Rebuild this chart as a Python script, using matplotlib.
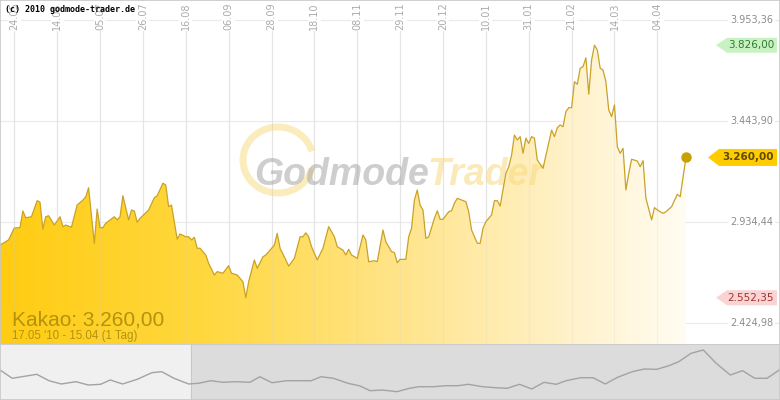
import numpy as np
import matplotlib
matplotlib.use('Agg')
import matplotlib.pyplot as plt
from matplotlib.patches import Polygon, Arc, Rectangle
from matplotlib.colors import LinearSegmentedColormap

# Kakao, Tageskurse 17.05.2010 - 15.04.2011, x = Handelstag seit Start
days = [0, 2, 3, 5, 7, 8, 9, 11, 13, 14, 15, 16, 17, 19, 21, 22, 23, 25, 27, 29,
        30, 31, 33, 34, 35, 36, 37, 40, 41, 42, 43, 45, 46, 47, 48, 49, 52, 54, 55, 57,
        58, 59, 60, 62, 63, 65, 66, 67, 68, 69, 70, 72, 73, 75, 76, 78, 80, 81, 83, 85,
        86, 87, 89, 90, 92, 93, 96, 97, 98, 100, 101, 103, 105, 106, 107, 108, 109, 111, 113, 115,
        117, 118, 120, 121, 122, 123, 125, 127, 128, 129, 131, 132, 134, 135, 137, 138, 139, 140, 142, 143,
        144, 145, 146, 147, 148, 149, 150, 152, 153, 154, 155, 157, 158, 159, 160, 163, 164, 165, 167, 168,
        169, 170, 172, 173, 174, 175, 177, 178, 179, 180, 181, 182, 183, 184, 185, 186, 187, 188, 190, 193,
        194, 195, 196, 197, 198, 199, 200, 201, 202, 203, 204, 205, 206, 207, 208, 209, 210, 211, 212, 213,
        214, 215, 216, 217, 218, 219, 220, 221, 223, 224, 225, 226, 228, 229, 230, 232, 233, 235, 237, 238,
        240]
prices = [2818, 2835, 2844, 2904, 2906, 2990, 2956, 2961, 3042, 3034, 2899, 2961, 2966, 2919, 2961, 2911, 2919, 2908, 3020, 3045,
          3062, 3107, 2827, 3000, 2906, 2906, 2928, 2961, 2945, 2961, 3067, 2945, 2995, 2990, 2933, 2953, 2995, 3057, 3067, 3130,
          3121, 3012, 3020, 2848, 2874, 2860, 2860, 2844, 2857, 2802, 2802, 2768, 2726, 2667, 2684, 2676, 2714, 2676, 2667, 2633,
          2552.35, 2633, 2743, 2701, 2759, 2768, 2818, 2877, 2802, 2743, 2712, 2751, 2860, 2860, 2880, 2860, 2810, 2743, 2802, 2911,
          2860, 2810, 2793, 2768, 2797, 2768, 2751, 2869, 2844, 2734, 2739, 2734, 2894, 2835, 2785, 2780, 2729, 2746, 2746, 2860,
          2903, 3045, 3096, 3020, 2995, 2852, 2860, 2953, 2991, 2948, 2948, 2986, 2991, 3029, 3054, 3037, 2986, 2894, 2827, 2827,
          2903, 2936, 2970, 3042, 3042, 3015, 3180, 3213, 3272, 3373, 3348, 3365, 3281, 3357, 3331, 3365, 3357, 3247, 3205, 3398,
          3365, 3410, 3424, 3415, 3491, 3511, 3511, 3642, 3629, 3710, 3718, 3763, 3579, 3752, 3826, 3802, 3710, 3701, 3642, 3499,
          3466, 3525, 3314, 3281, 3306, 3096, 3180, 3251, 3242, 3213, 3244, 3054, 2945, 3007, 2995, 2978, 2986, 3012, 3074, 3062,
          3260]

tick_days = [5, 20, 35, 50, 65, 80, 95, 110, 125, 140, 155, 170, 185, 200, 215, 230]
tick_labels = ['24.05', '14.06', '05.07', '26.07', '16.08', '06.09', '28.09', '18.10',
               '08.11', '29.11', '20.12', '10.01', '31.01', '21.02', '14.03', '04.04']
y_ticks = [2424.98, 2934.44, 3443.90, 3953.36]

# Übersicht (Navigator) unten, längere Historie
nav_days = [-78, -73, -63, -58, -53, -47, -42, -37, -33, -28, -22, -16, -12, -7, -1, 3, 8, 13, 18, 24,
            28, 33, 39, 49, 53, 58, 64, 69, 73, 78, 84, 89, 93, 99, 104, 109, 113, 119, 124, 129,
            134, 139, 144, 149, 153, 159, 164, 169, 174, 180, 185, 190, 195, 199, 204, 209, 214, 220, 225, 230,
            235, 240]
nav_prices = [3215, 2962, 3084, 2888, 2788, 2858, 2757, 2778, 2910, 2788, 2931, 3133, 3163, 2962, 2788, 2809, 2888, 2839, 2858, 2839,
              3010, 2827, 2888, 2888, 3010, 2962, 2809, 2726, 2583, 2604, 2552, 2656, 2705, 2705, 2736, 2736, 2778, 2705, 2675, 2656,
              2778, 2635, 2839, 2778, 2888, 2980, 2980, 2788, 2992, 3163, 3246, 3236, 3346, 3469, 3725, 3826, 3438, 3062, 3194, 2962,
              2962, 3215]

assert len(days) == len(prices)
assert len(nav_days) == len(nav_prices)


def de(v):
    return f"{v:,.2f}".replace(',', 'X').replace('.', ',').replace('X', '.')


W, H = 780, 400
MAIN_H = 344
px_per_day = 2.858
units_per_px = 5.0442
y_top = y_ticks[-1] + 20 * units_per_px
y_bot = y_ticks[-1] - (MAIN_H - 20) * units_per_px

fig = plt.figure(figsize=(7.8, 4), dpi=100)
fig.patch.set_facecolor('white')
ax = fig.add_axes([0, 1 - MAIN_H / H, 1, MAIN_H / H])
ax.set_facecolor('white')
for s in ax.spines.values():
    s.set_visible(False)
ax.set_xticks([])
ax.set_yticks([])

# Gitter
for v in y_ticks:
    ax.axhline(v, color='#EAEAEA', lw=0.8, zorder=1)
for d in tick_days:
    ax.axvline(d, color='#EAEAEA', lw=0.8, zorder=1)

# Fläche mit Farbverlauf
cmap = LinearSegmentedColormap.from_list('gold', [
    (0.0, '#FFCC12'), (0.3, '#FFD83F'), (0.58, '#FFE48A'),
    (0.8, '#FFF0C2'), (1.0, '#FFFCF2')])
verts = [(days[0], y_bot)] + list(zip(days, prices)) + [(days[-1], y_bot)]
area = Polygon(verts, closed=True, facecolor='none', edgecolor='none')
ax.add_patch(area)
im = ax.imshow(np.linspace(0, 1, 256)[None, :], cmap=cmap,
               extent=[days[0], days[-1], y_bot, y_top], aspect='auto', zorder=2)
im.set_clip_path(area)

# Gitter leicht über der Fläche
for d in tick_days:
    ax.axvline(d, color='#D0D0D0', lw=0.8, alpha=0.2, zorder=2.5)

ax.set_xlim(days[0], days[0] + W / px_per_day)
ax.set_ylim(y_bot, y_top)

# Wasserzeichen
ring = Arc((278 / W, 1 - 160 / MAIN_H), 70 / W, 66 / MAIN_H, theta1=30, theta2=330,
           transform=ax.transAxes, color='#F7D66E', lw=5, alpha=0.45, zorder=3)
ax.add_patch(ring)
wm = dict(transform=ax.transAxes, fontsize=27, fontweight='bold', style='italic',
          family=['Liberation Sans', 'DejaVu Sans'],
          va='baseline', ha='left', alpha=0.55, zorder=3)
t1 = ax.text(254 / W, 1 - 185 / MAIN_H, 'Godmode', color='#A6A6A6', **wm)
fig.canvas.draw()
bb = t1.get_window_extent()
x_end = ax.transAxes.inverted().transform((bb.x1 - 2, bb.y0))[0]
ax.text(x_end, 1 - 185 / MAIN_H, 'Trader', color='#F7DA80', **wm)

# Kurslinie
ax.plot(days, prices, color='#C9A227', lw=0.9, zorder=4)
ax.plot(days[-1], prices[-1], 'o', ms=6.5, color='#C8A000', zorder=5)

# Datumsbeschriftung oben
xt = ax.get_xaxis_transform()
for d, lab in zip(tick_days, tick_labels):
    ax.text(d, 1 - 2 / MAIN_H, lab, transform=xt, rotation=90, ha='center', va='top',
            fontsize=7, color='#ABABAB', zorder=6,
            bbox=dict(boxstyle='square,pad=0.15', fc='white', ec='none'))

# Kursachse rechts
yt = ax.get_yaxis_transform()
for v in y_ticks:
    ax.text(773 / W, v, de(v), transform=yt, ha='right', va='center', fontsize=7,
            color='#8C8C8C', zorder=6,
            bbox=dict(boxstyle='square,pad=0.2', fc='white', ec='none'))


def badge(v, fc, tc, bold, tip, left, h):
    dy = h / 2 * units_per_px
    pts = [(tip / W, v), (left / W, v + dy), (777 / W, v + dy),
           (777 / W, v - dy), (left / W, v - dy)]
    ax.add_patch(Polygon(pts, closed=True, transform=yt, fc=fc, ec='none', zorder=7))
    ax.text(774 / W, v, de(v), transform=yt, ha='right', va='center',
            fontsize=7.5, color=tc, fontweight='bold' if bold else 'normal', zorder=8)


badge(max(prices), '#C8F2C2', '#2F7A2F', False, 716, 727, 15)
badge(prices[-1], '#FFCC00', '#5E4A00', True, 708, 719, 17)
badge(min(prices), '#FAD3D3', '#A33232', False, 716, 727, 15)

# Texte
fig.text(12 / W, 1 - 325 / H, 'Kakao: ' + de(prices[-1]), fontsize=15,
         family='Liberation Sans', color='#B3920E', va='baseline')
fig.text(12 / W, 1 - 339.5 / H, "17.05 '10 - 15.04 (1 Tag)", fontsize=8.3,
         family='Liberation Sans', color='#B3920E', va='baseline')
fig.text(5 / W, 1 - 12 / H, '(c) 2010 godmode-trader.de', fontsize=6,
         family='DejaVu Sans Mono', fontweight='bold', color='black', va='baseline')

# Navigator
nav = fig.add_axes([0, 0, 1, (H - MAIN_H) / H])
nav.set_facecolor('#DCDCDC')
nav.axvspan(nav_days[0], days[0], color='#F0F0F0', zorder=0)
nav.axvline(days[0], color='#C8C8C8', lw=0.8, zorder=1)
nav.plot(nav_days, nav_prices, color='#A3A3A3', lw=1.0, zorder=2)
nav.set_xlim(nav_days[0], nav_days[-1] + 0.3)
nav.set_ylim(2299, 4009)
nav.set_xticks([])
nav.set_yticks([])
for s in nav.spines.values():
    s.set_visible(False)
nav.axhline(4009, color='#C8C8C8', lw=1.2)

fig.patches.append(Rectangle((0, 0), 1, 1, transform=fig.transFigure, fill=False,
                             ec='#C8C8C8', lw=1.2))

fig.savefig('out.png', dpi=100)
